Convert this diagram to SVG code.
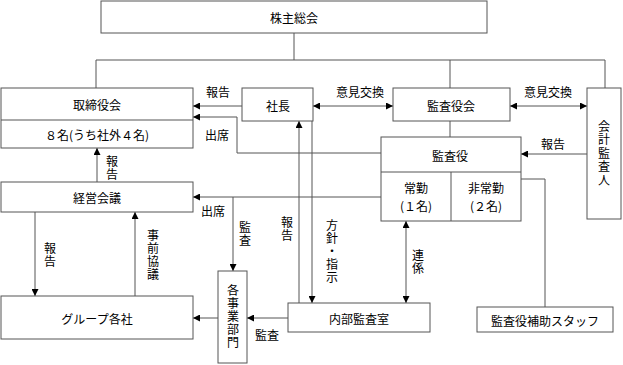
<svg xmlns="http://www.w3.org/2000/svg" width="623" height="365" viewBox="0 0 623 365">
<defs>
<marker id="ah" markerUnits="userSpaceOnUse" markerWidth="7" markerHeight="7" refX="7" refY="3.5" orient="auto-start-reverse">
<path d="M0,0 L7,3.5 L0,7 z" fill="#000"/>
</marker>
<style>
.box{fill:#fff;stroke:#555;stroke-width:1}
.ln{fill:none;stroke:#555;stroke-width:1}
.t{font-family:"Noto Sans CJK JP","Noto Sans",sans-serif;font-size:12px;fill:#000;text-anchor:middle;dominant-baseline:central}
.v{font-family:"Noto Sans CJK JP","Noto Sans",sans-serif;font-size:12px;fill:#000;text-anchor:middle;writing-mode:vertical-rl;letter-spacing:1px}
</style>
</defs>
<rect width="623" height="365" fill="#fff"/>
<g id="connectors">
<path class="ln" d="M294,33 V60 M96,60 H605 M96,60 V88 M450,60 V88 M605,60 V88"/>
<path class="ln" d="M242,106 H193" marker-end="url(#ah)"/>
<path class="ln" d="M313,106 H393" marker-start="url(#ah)" marker-end="url(#ah)"/>
<path class="ln" d="M510,106 H587" marker-start="url(#ah)" marker-end="url(#ah)"/>
<path class="ln" d="M450,121 V137"/>
<path class="ln" d="M381,153 H237 V117 H193" marker-end="url(#ah)"/>
<path class="ln" d="M587,154 H521" marker-end="url(#ah)"/>
<path class="ln" d="M97,182 V148" marker-end="url(#ah)"/>
<path class="ln" d="M381,197 H193" marker-end="url(#ah)"/>
<path class="ln" d="M233,197 V271" marker-end="url(#ah)"/>
<path class="ln" d="M299,303 V121" marker-end="url(#ah)"/>
<path class="ln" d="M312,121 V303" marker-end="url(#ah)"/>
<path class="ln" d="M406,303 V221" marker-start="url(#ah)" marker-end="url(#ah)"/>
<path class="ln" d="M521,179 H545 V307"/>
<path class="ln" d="M35,212 V296" marker-end="url(#ah)"/>
<path class="ln" d="M135,296 V212" marker-end="url(#ah)"/>
<path class="ln" d="M218,318 H193" marker-end="url(#ah)"/>
<path class="ln" d="M288,318 H247" marker-end="url(#ah)"/>
<text class="t" x="218" y="91">報告</text>
<text class="t" x="360" y="91">意見交換</text>
<text class="t" x="548" y="91">意見交換</text>
<text class="t" x="217" y="134">出席</text>
<text class="t" x="553" y="143">報告</text>
<text class="v" x="112" y="168">報告</text>
<text class="t" x="213" y="210">出席</text>
<text class="v" x="245" y="234">監査</text>
<text class="v" x="287" y="229">報告</text>
<text class="v" x="332" y="252">方針・指示</text>
<text class="v" x="418" y="262">連係</text>
<text class="v" x="50" y="255">報告</text>
<text class="v" x="153" y="255">事前協議</text>
<text class="t" x="267" y="334">監査</text>
</g>
<g id="kabunushi">
<rect class="box" x="101" y="1" width="386" height="32"/>
<text class="t" x="294" y="17">株主総会</text>
</g>
<g id="torishimariyakukai">
<rect class="box" x="1" y="88" width="192" height="60"/>
<path class="ln" d="M1,120 H193"/>
<text class="t" x="97" y="104">取締役会</text>
<text class="t" x="97" y="134">８名(うち社外４名)</text>
</g>
<g id="shacho">
<rect class="box" x="242" y="88" width="71" height="33"/>
<text class="t" x="278" y="105">社長</text>
</g>
<g id="kansayakukai">
<rect class="box" x="393" y="88" width="117" height="33"/>
<text class="t" x="451" y="105">監査役会</text>
</g>
<g id="kaikeikansanin">
<rect class="box" x="587" y="88" width="34" height="131"/>
<text class="v" x="604" y="154" style="letter-spacing:1.5px">会計監査人</text>
</g>
<g id="kansayaku">
<rect class="box" x="381" y="137" width="140" height="84"/>
<path class="ln" d="M381,172 H521 M451,172 V221"/>
<text class="t" x="450" y="155">監査役</text>
<text class="t" x="416" y="187">常勤</text>
<text class="t" x="416" y="205">(１名)</text>
<text class="t" x="486" y="187">非常勤</text>
<text class="t" x="486" y="205">(２名)</text>
</g>
<g id="keieikaigi">
<rect class="box" x="1" y="182" width="192" height="30"/>
<text class="t" x="97" y="197">経営会議</text>
</g>
<g id="group">
<rect class="box" x="1" y="296" width="192" height="43"/>
<text class="t" x="97" y="318">グループ各社</text>
</g>
<g id="jigyobumon">
<rect class="box" x="218" y="271" width="29" height="92"/>
<text class="v" x="233" y="317">各事業部門</text>
</g>
<g id="naibukansa">
<rect class="box" x="288" y="303" width="142" height="29"/>
<text class="t" x="359" y="318">内部監査室</text>
</g>
<g id="hojostaff">
<rect class="box" x="477" y="307" width="136" height="25"/>
<text class="t" x="545" y="320">監査役補助スタッフ</text>
</g>
</svg>
